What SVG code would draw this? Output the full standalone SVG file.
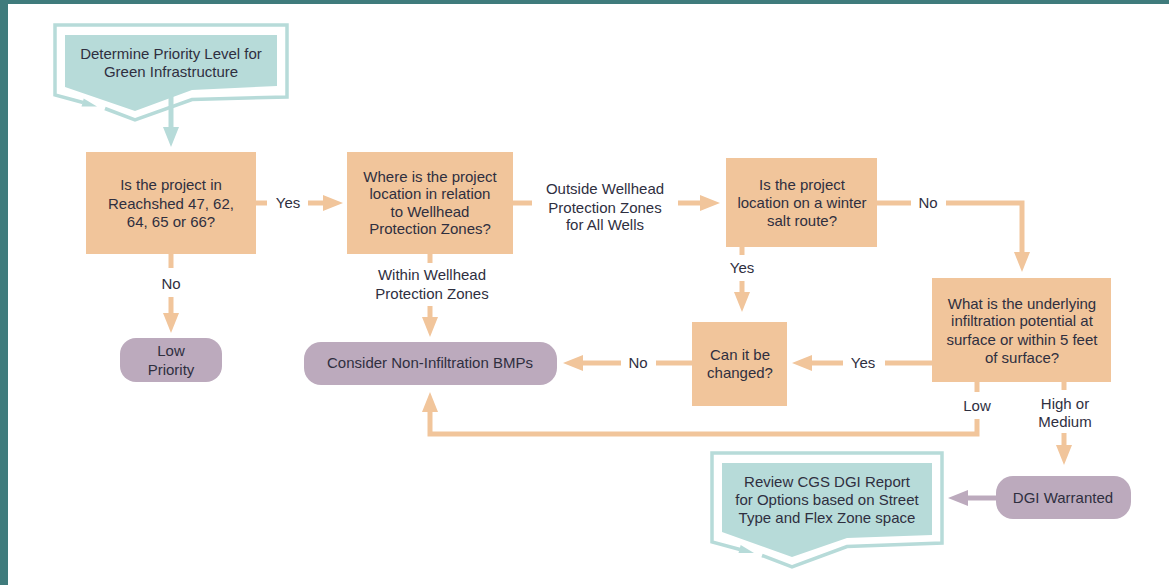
<svg xmlns="http://www.w3.org/2000/svg" width="1169" height="585" viewBox="0 0 1169 585">
<style>
text{font-family:"Liberation Sans",Arial,sans-serif;font-size:15px;fill:#2f2f3f;text-anchor:middle}
.box{fill:#f1c59b}
.pill{fill:#bcaabd}
.tfill{fill:#b7dbd9}
.tline{fill:none;stroke:#b7dbd9;stroke-width:3.5}
.c{fill:none;stroke:#f1c59b;stroke-width:5}
.cp{fill:none;stroke:#bcaabd;stroke-width:5}
.ct{fill:none;stroke:#b7dbd9;stroke-width:5}
</style>
<defs>
<marker id="ao" viewBox="0 0 20 16" refX="0" refY="8" markerWidth="20" markerHeight="16" markerUnits="userSpaceOnUse" orient="auto"><path d="M0,0 L20,8 L0,16 z" fill="#f1c59b"/></marker>
<marker id="ap" viewBox="0 0 20 16" refX="0" refY="8" markerWidth="20" markerHeight="16" markerUnits="userSpaceOnUse" orient="auto"><path d="M0,0 L20,8 L0,16 z" fill="#bcaabd"/></marker>
<marker id="at" viewBox="0 0 20 16" refX="0" refY="8" markerWidth="20" markerHeight="16" markerUnits="userSpaceOnUse" orient="auto"><path d="M0,0 L20,8 L0,16 z" fill="#b7dbd9"/></marker>
</defs>
<rect x="0" y="0" width="1169" height="585" fill="#ffffff"/>
<rect x="0" y="0" width="1169" height="4" fill="#3f7b7c"/>
<rect x="0" y="0" width="8" height="585" fill="#3f7b7c"/>

<g id="start">
<polygon class="tfill" points="65,35 277,35 277,86 192,90 135,111 65,87"/>
<path class="tline" d="M105,108.5 L135,120 L192,99.5 L287,97 V25 H55 V95 L83,102.5"/>
<polygon points="97,106.5 81.5,106.5 83.7,98.6" fill="#b7dbd9"/>
<text><tspan x="171" y="59">Determine Priority Level for</tspan><tspan x="171" y="77">Green Infrastructure</tspan></text>
</g>

<g id="q-reachshed">
<rect class="box" x="86" y="152" width="170" height="102"/>
<text><tspan x="171" y="190">Is the project in</tspan><tspan x="171" y="208.5">Reachshed 47, 62,</tspan><tspan x="171" y="227">64, 65 or 66?</tspan></text>
</g>

<g id="q-wellhead">
<rect class="box" x="347" y="152" width="166" height="102"/>
<text><tspan x="430" y="181.5">Where is the project</tspan><tspan x="430" y="199">location in relation</tspan><tspan x="430" y="216.5">to Wellhead</tspan><tspan x="430" y="234">Protection Zones?</tspan></text>
</g>

<g id="q-salt">
<rect class="box" x="726" y="158" width="151" height="89"/>
<text><tspan x="802" y="190">Is the project</tspan><tspan x="802" y="208">location on a winter</tspan><tspan x="802" y="226">salt route?</tspan></text>
</g>

<g id="q-changed">
<rect class="box" x="692" y="322" width="95" height="84"/>
<text><tspan x="740" y="360">Can it be</tspan><tspan x="740" y="377.5">changed?</tspan></text>
</g>

<g id="q-infiltration">
<rect class="box" x="932" y="278" width="179" height="104"/>
<text><tspan x="1022" y="308.5">What is the underlying</tspan><tspan x="1022" y="326">infiltration potential at</tspan><tspan x="1022" y="344.5">surface or within 5 feet</tspan><tspan x="1022" y="362.5">of surface?</tspan></text>
</g>

<g id="low-priority">
<rect class="pill" x="120" y="338" width="102" height="44" rx="16"/>
<text><tspan x="171" y="356">Low</tspan><tspan x="171" y="374.5">Priority</tspan></text>
</g>

<g id="non-infiltration">
<rect class="pill" x="304" y="342" width="253" height="43" rx="17"/>
<text x="430" y="368">Consider Non-Infiltration BMPs</text>
</g>

<g id="dgi-warranted">
<rect class="pill" x="996" y="476" width="135" height="43" rx="17"/>
<text x="1063" y="502.5">DGI Warranted</text>
</g>

<g id="review">
<polygon class="tfill" points="722,463 932,463 932,535 847,538 792,557 722,532"/>
<path class="tline" d="M762,555.5 L792,567 L847,546.5 L942,543 V453 H712 V542 L740,549.5"/>
<polygon points="754,553 738.5,553 740.7,545.1" fill="#b7dbd9"/>
<text><tspan x="827" y="487">Review CGS DGI Report</tspan><tspan x="827" y="505">for Options based on Street</tspan><tspan x="827" y="522.5">Type and Flex Zone space</tspan></text>
</g>

<g id="connectors">
<path class="ct" d="M171,88 V127" marker-end="url(#at)"/>
<path class="c" d="M256,203 H267"/>
<path class="c" d="M308,203 H323" marker-end="url(#ao)"/>
<text x="288" y="208">Yes</text>
<path class="c" d="M171,254 V268"/>
<path class="c" d="M171,297 V313" marker-end="url(#ao)"/>
<text x="171" y="289">No</text>
<path class="c" d="M430,254 V263"/>
<path class="c" d="M430,306 V317" marker-end="url(#ao)"/>
<text><tspan x="432" y="280">Within Wellhead</tspan><tspan x="432" y="299">Protection Zones</tspan></text>
<path class="c" d="M513,203 H532"/>
<path class="c" d="M678,203 H700" marker-end="url(#ao)"/>
<text><tspan x="605" y="194">Outside Wellhead</tspan><tspan x="605" y="212.5">Protection Zones</tspan><tspan x="605" y="230">for All Wells</tspan></text>
<path class="c" d="M877,203 H911"/>
<path class="c" d="M946,203 H1022 V252" marker-end="url(#ao)"/>
<text x="928" y="207.5">No</text>
<path class="c" d="M742,247 V255"/>
<path class="c" d="M742,281 V292" marker-end="url(#ao)"/>
<text x="742" y="273">Yes</text>
<path class="c" d="M932,363 H885"/>
<path class="c" d="M843,363 H812" marker-end="url(#ao)"/>
<text x="863" y="368">Yes</text>
<path class="c" d="M692,363 H656"/>
<path class="c" d="M621,363 H583" marker-end="url(#ao)"/>
<text x="638" y="368">No</text>
<path class="c" d="M977,382 V392"/>
<path class="c" d="M977,419 V434 H430 V412" marker-end="url(#ao)"/>
<text x="977" y="411">Low</text>
<path class="c" d="M1064,382 V390"/>
<path class="c" d="M1064,433 V445" marker-end="url(#ao)"/>
<text><tspan x="1065" y="408.5">High or</tspan><tspan x="1065" y="427">Medium</tspan></text>
<path class="cp" d="M996,498 H968" marker-end="url(#ap)"/>
</g>
</svg>
